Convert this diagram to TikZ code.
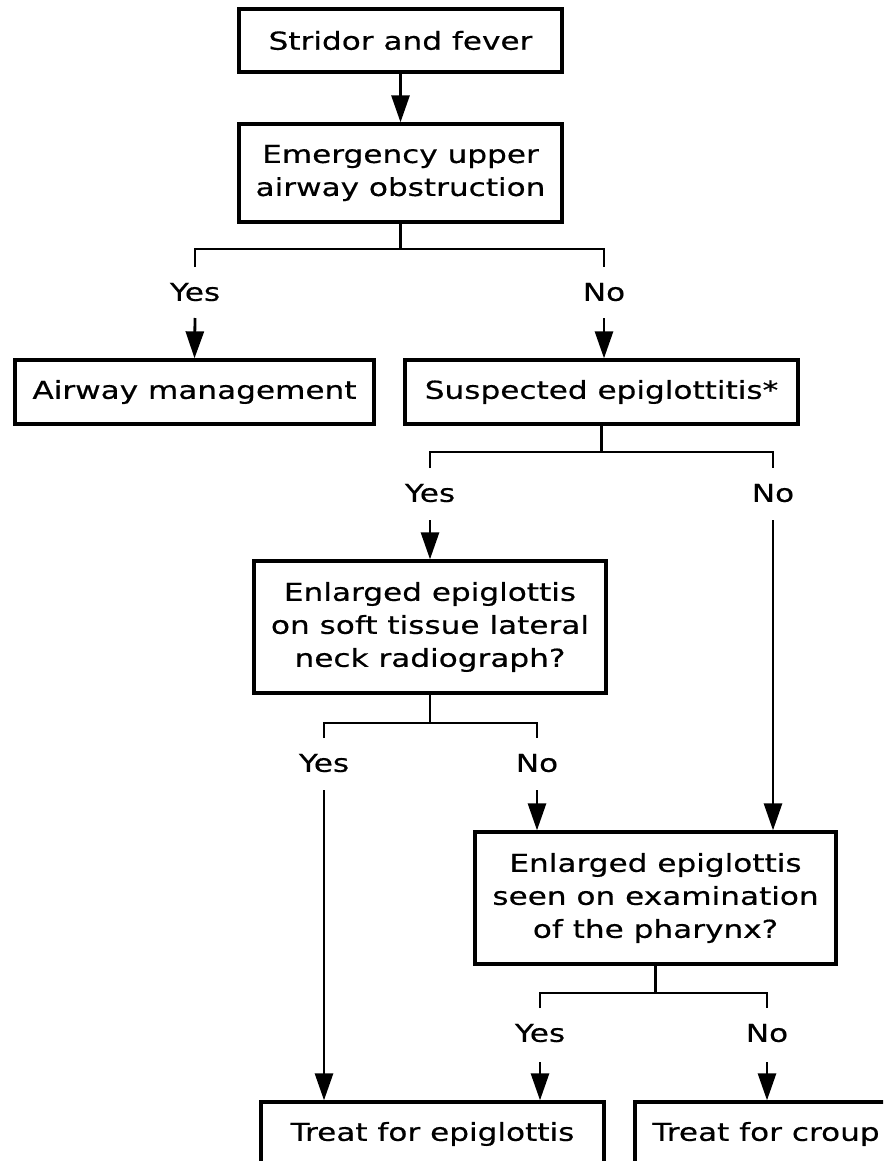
\documentclass[tikz,border=0pt]{standalone}
\usepackage{fontspec}
\setmainfont{DejaVu Sans}[FakeStretch=1.26,FakeBold=0.5]
\usetikzlibrary{arrows.meta}
\begin{document}
\begin{tikzpicture}[x=1pt,y=-1pt,
  font=\fontsize{24.7}{33}\selectfont,
  box/.style={draw,line width=3.3pt,rectangle,inner sep=0pt,align=center},
  lbl/.style={inner sep=0pt},
  conn/.style={line width=2.8pt},
  arr/.style={line width=2.8pt,-{Triangle[length=27pt,width=18pt]}}]
\useasboundingbox (0,0) rectangle (883,1161);
\clip (0,0) rectangle (883,1161);
% boxes
\node[box,minimum width=323pt,minimum height=63pt] (b1) at (400.5,40.5) {Stridor and fever};
\node[box,minimum width=323pt,minimum height=98pt] (b2) at (400.5,173) {Emergency upper\\airway obstruction};
\node[box,minimum width=359pt,minimum height=64pt] (b3) at (194.5,392) {Airway management};
\node[box,minimum width=393pt,minimum height=64pt] (b4) at (601.5,392) {Suspected epiglottitis*};
\node[box,minimum width=352pt,minimum height=132pt] (b5) at (430,627) {Enlarged epiglottis\\on soft tissue lateral\\neck radiograph?};
\node[box,minimum width=361pt,minimum height=132pt] (b6) at (655.5,898) {Enlarged epiglottis\\seen on examination\\of the pharynx?};
\node[box,minimum width=343pt,minimum height=64pt] (b7) at (432.5,1134) {Treat for epiglottis};
\node[box,minimum width=262pt,minimum height=64pt] (b8) at (766,1134) {Treat for croup};
% labels
\node[lbl] (y1) at (195,292) {Yes};
\node[lbl] (n1) at (604,292) {No};
\node[lbl] (y2) at (430,493) {Yes};
\node[lbl] (n2) at (773,493) {No};
\node[lbl] (y3) at (324,763) {Yes};
\node[lbl] (n3) at (537,763) {No};
\node[lbl] (y4) at (540,1033) {Yes};
\node[lbl] (n4) at (767,1033) {No};
% junction coordinates
\coordinate (j1) at (400.5,249);
\coordinate (j1y) at (195,267);
\coordinate (j1n) at (604,267);
\coordinate (a1y) at (195,318);
\coordinate (a1n) at (604,318);
\coordinate (j2) at (601.5,452);
\coordinate (j2y) at (430,468);
\coordinate (j2n) at (773,468);
\coordinate (a2y) at (430,520);
\coordinate (a2n) at (773,520);
\coordinate (j3) at (430,723);
\coordinate (j3y) at (324,738);
\coordinate (j3n) at (537,738);
\coordinate (a3y) at (324,790);
\coordinate (a3n) at (537,790);
\coordinate (j4) at (655.5,993);
\coordinate (j4y) at (540,1008);
\coordinate (j4n) at (767,1008);
\coordinate (a4y) at (540,1062);
\coordinate (a4n) at (767,1062);
% connectors
\draw[arr] (b1.south) -- (b2.north);
\draw[conn] (b2.south) -- (j1);
\draw[conn] (j1y) |- (j1) -| (j1n);
\draw[arr] (a1y) -- (b3.north);
\draw[arr] (a1n) -- (a1n |- b4.north);
\draw[conn] (b4.south) -- (j2);
\draw[conn] (j2y) |- (j2) -| (j2n);
\draw[arr] (a2y) -- (b5.north);
\draw[arr] (a2n) -- (a2n |- b6.north);
\draw[conn] (b5.south) -- (j3);
\draw[conn] (j3y) |- (j3) -| (j3n);
\draw[arr] (a3y) -- (a3y |- b7.north);
\draw[arr] (a3n) -- (a3n |- b6.north);
\draw[conn] (b6.south) -- (j4);
\draw[conn] (j4y) |- (j4) -| (j4n);
\draw[arr] (a4y) -- (a4y |- b7.north);
\draw[arr] (a4n) -- (a4n |- b8.north);
\end{tikzpicture}
\end{document}
